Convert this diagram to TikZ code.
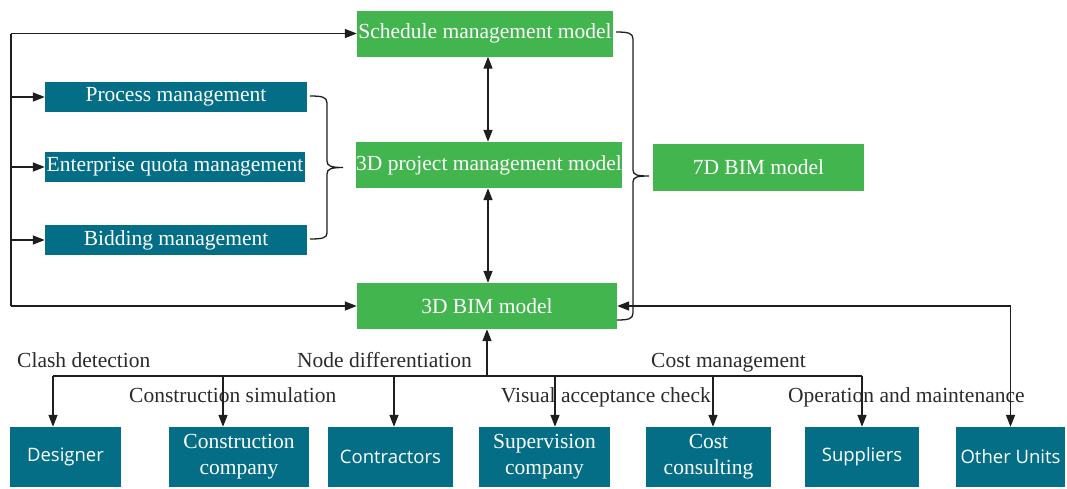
\documentclass[tikz,border=0pt]{standalone}
\usepackage{fontspec}
\setmainfont{Liberation Serif}
\newfontfamily\boxsans{Open Sans}
\usetikzlibrary{arrows.meta,calc}
\definecolor{unitblue}{HTML}{046E87}
\definecolor{modelgreen}{HTML}{43B54F}
\definecolor{labelgray}{HTML}{2A2A2A}
\definecolor{linegray}{HTML}{1E1E1E}
\begin{document}
\begin{tikzpicture}[x=1pt,y=-1pt,
  every node/.style={inner sep=0pt},
  model/.style={fill=modelgreen, text=white, font=\fontsize{21.5}{25}\selectfont, minimum height=46pt},
  mgmt/.style={fill=unitblue, text=white, font=\fontsize{21.5}{25}\selectfont, minimum height=30pt},
  unit/.style={fill=unitblue, text=white, font=\fontsize{21.5}{26}\selectfont, minimum height=60pt, align=center},
  unitsans/.style={unit, font=\boxsans\fontsize{18.5}{22}\selectfont},
  lbl/.style={text=labelgray, font=\fontsize{21.5}{25}\selectfont},
  link/.style={draw=linegray, line width=1.5pt},
  tip/.style={},
  arr/.style={link, -{Triangle[length=12pt,width=9pt]}},
  darr/.style={link, {Triangle[length=12pt,width=9pt]}-{Triangle[length=12pt,width=9pt]}},
]
\useasboundingbox (0,0) rectangle (1067,488);

% model column
\node[model, minimum width=256pt] (sched) at (485,33.5) {Schedule management model};
\node[model, minimum width=262pt] (proj) at (489,165) {3D project management model};
\node[model, minimum width=260pt] (bim3) at (487,306) {3D BIM model};
\node[model, minimum width=211pt, minimum height=47pt] (bim7) at (758.5,167.5) {7D BIM model};

% management boxes
\node[mgmt, minimum width=262pt] (proc) at (176,97) {Process management};
\node[mgmt, minimum width=260pt] (quota) at (175,167) {Enterprise quota management};
\node[mgmt, minimum width=262pt] (bid) at (176,240) {Bidding management};

% participating units
\node[unitsans, minimum width=111pt] (des) at (65.5,457) {Designer};
\node[unit, minimum width=140pt] (ccomp) at (239,457) {Construction\\company};
\node[unitsans, minimum width=125pt] (contr) at (390.5,457) {Contractors};
\node[unit, minimum width=131pt] (superv) at (544.5,457) {Supervision\\company};
\node[unit, minimum width=125pt] (cost) at (708.5,457) {Cost\\consulting};
\node[unitsans, minimum width=114pt] (supp) at (862,457) {Suppliers};
\node[unitsans, minimum width=109pt] (other) at (1010.5,457) {Other Units};

% application labels
\node[lbl, anchor=base west] (clash) at (17,367) {Clash detection};
\node[lbl, anchor=base west] (csim) at (129,402) {Construction simulation};
\node[lbl, anchor=base west] (nodediff) at (297,367) {Node differentiation};
\node[lbl, anchor=base east] (visual) at (711,402) {Visual acceptance check};
\node[lbl, anchor=base west] (costm) at (651,367) {Cost management};
\node[lbl, anchor=base west] (opm) at (788,402) {Operation and maintenance};

% left feeder line
\coordinate (spine) at (11,0);
\draw[link] (sched.west -| spine) -- (bim3.west -| spine);
\draw[arr] (sched.west -| spine) -- (sched.west);
\draw[arr] (proc.west -| spine) -- (proc.west);
\draw[arr] (quota.west -| spine) -- (quota.west);
\draw[arr] (bid.west -| spine) -- (bid.west);
\draw[arr] (bim3.west -| spine) -- (bim3.west);

% links between the models
\coordinate (axis) at (488,0);
\draw[darr] (sched.south -| axis) -- (proj.north -| axis);
\draw[darr] (proj.south -| axis) -- (bim3.north -| axis);

% distribution bus to the units
\coordinate (bus) at (487,376);
\coordinate (d1) at (53,376);
\coordinate (d2) at (223,376);
\coordinate (d3) at (394,376);
\coordinate (d4) at (555,376);
\coordinate (d5) at (713,376);
\coordinate (d6) at (862,376);
\draw[link] (d1) -- (d6);
\draw[arr] (bus) -- (bim3.south -| bus);
\draw[arr] (d1) -- (d1 |- des.north);
\draw[arr] (d2) -- (d2 |- ccomp.north);
\draw[arr] (d3) -- (d3 |- contr.north);
\draw[arr] (d4) -- (d4 |- superv.north);
\draw[arr] (d5) -- (d5 |- cost.north);
\draw[arr] (d6) -- (d6 |- supp.north);
\draw[darr] (bim3.east) -| (other.north);

% braces
\draw[link, line width=1.3pt] (310,96) .. controls (322,96) and (327,97) .. (327,103) -- (327,161)
  .. controls (327,166) and (331,167.5) .. (343,167.5)
  .. controls (331,167.5) and (327,169) .. (327,174) -- (327,233)
  .. controls (327,238) and (322,239) .. (310,239);
\draw[link, line width=1.3pt] (616,32) .. controls (628,32) and (633,33) .. (633,39) -- (633,170)
  .. controls (633,175) and (637,176) .. (649,176)
  .. controls (637,176) and (633,177) .. (633,182) -- (633,313)
  .. controls (633,319) and (628,320) .. (617,320);
\end{tikzpicture}
\end{document}
